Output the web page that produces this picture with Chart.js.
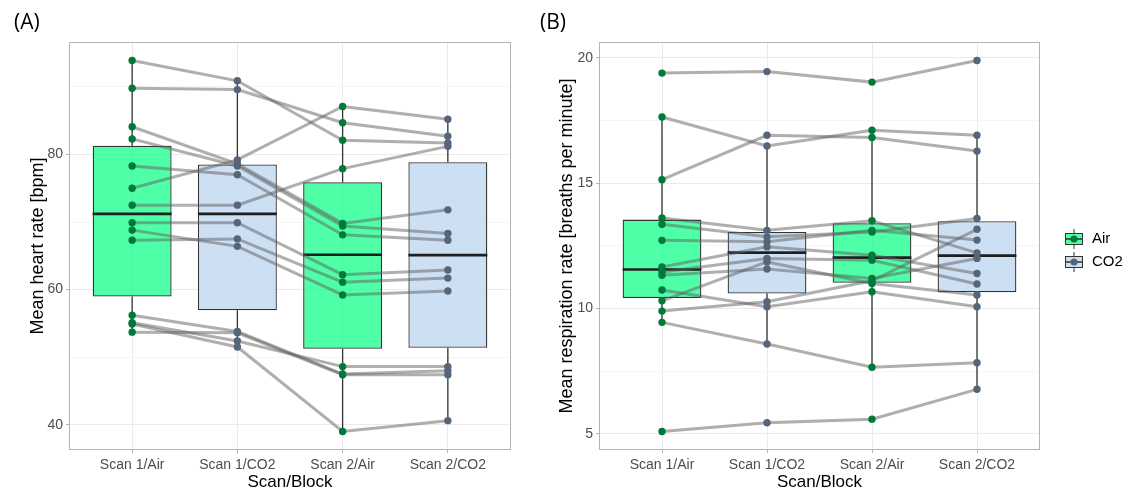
<!DOCTYPE html>
<html>
<head>
<meta charset="utf-8">
<script src="https://cdn.jsdelivr.net/npm/chart.js@4.4.0/dist/chart.umd.min.js"></script>
<style>
body{margin:0;background:#fff;width:1139px;height:499px;overflow:hidden;position:relative;font-family:"Liberation Sans",Arial,sans-serif}
#wrapA{position:absolute;left:0;top:0;width:540px;height:499px}
#wrapB{position:absolute;left:540px;top:0;width:599px;height:499px}
.tag{position:absolute;top:7px;font-family:"Open Sans",sans-serif;font-size:21px;color:#000}
</style>
</head>
<body>
<div id="wrapA"><canvas id="chartA"></canvas></div>
<div id="wrapB"><canvas id="chartB"></canvas></div>
<div class="tag" style="left:14px">(A)</div>
<div class="tag" style="left:540px">(B)</div>
<script>
var categories = ["Scan 1/Air", "Scan 1/CO2", "Scan 2/Air", "Scan 2/CO2"];
var blocks = ["Air", "CO2", "Air", "CO2"];

// heart rate, one value per subject (same subject order in every array)
var hrScan1Air = [93.9, 89.8, 75.0, 84.1, 82.3, 78.3, 72.5, 69.9, 68.8, 67.3, 56.2, 55.1, 54.9, 53.7];
var hrScan1CO2 = [90.9, 89.6, 79.2, 78.6, 78.3, 77.0, 72.5, 69.9, 66.4, 67.5, 53.8, 52.4, 51.5, 53.6];
var hrScan2Air = [82.1, 84.7, 87.1, 69.8, 69.4, 68.1, 77.9, 62.2, 59.2, 61.1, 47.5, 48.6, 39.0, 47.4];
var hrScan2CO2 = [81.7, 82.7, 85.2, 71.8, 68.3, 67.3, 81.2, 62.9, 59.8, 61.7, 48.0, 48.6, 40.6, 47.4];

// respiration rate
var rrScan1Air = [19.39, 17.64, 15.14, 9.45, 5.10, 13.61, 13.36, 12.72, 11.66, 11.46, 11.33, 10.31, 9.90, 10.74];
var rrScan1CO2 = [19.45, 16.48, 16.91, 8.59, 5.45, 13.12, 12.86, 12.66, 12.46, 12.00, 11.58, 11.86, 10.27, 10.07];
var rrScan2Air = [19.03, 17.11, 16.82, 7.66, 5.59, 13.50, 13.05, 13.12, 12.13, 11.93, 11.20, 11.00, 11.11, 10.67];
var rrScan2CO2 = [19.89, 16.91, 16.28, 7.84, 6.78, 12.22, 13.59, 12.73, 11.40, 10.98, 12.00, 10.54, 13.16, 10.07];

var hrTicks = [40, 50, 60, 70, 80, 90];
var hrTickLabels = [40, 60, 80];
var rrTicks = [5, 7.5, 10, 12.5, 15, 17.5, 20];
var rrTickLabels = [5, 10, 15, 20];

var fillColors = {"Air": "rgba(0,255,127,0.69)", "CO2": "#cddff3"};
var pointColors = {"Air": "#007a3b", "CO2": "#56667a"};
var BOX_WIDTH = 0.75;

function quantile(sorted, p){
    var h = (sorted.length - 1) * p;
    var lo = Math.floor(h);
    var hi = Math.min(lo + 1, sorted.length - 1);
    return sorted[lo] + (h - lo) * (sorted[hi] - sorted[lo]);
}

function boxStats(values){
    var s = values.slice().sort(function(a, b){ return a - b; });
    var q1 = quantile(s, 0.25), med = quantile(s, 0.5), q3 = quantile(s, 0.75);
    var iqr = q3 - q1;
    var lo = s.filter(function(v){ return v >= q1 - 1.5 * iqr; })[0];
    var inside = s.filter(function(v){ return v <= q3 + 1.5 * iqr; });
    var hi = inside[inside.length - 1];
    return {q1: q1, med: med, q3: q3, lo: lo, hi: hi};
}

var panelBorder = {
    id: 'panelBorder',
    afterDraw: function(chart){
        var a = chart.chartArea, ctx = chart.ctx;
        ctx.save();
        ctx.strokeStyle = '#b3b3b3';
        ctx.lineWidth = 1;
        ctx.strokeRect(a.left + 0.5, a.top + 0.5, a.right - a.left - 1, a.bottom - a.top - 1);
        ctx.restore();
    }
};

var boxLegend = {
    id: 'boxLegend',
    afterDraw: function(chart){
        if(!chart.options.plugins.boxLegend || !chart.options.plugins.boxLegend.show){ return; }
        var ctx = chart.ctx;
        var items = ["Air", "CO2"];
        ctx.save();
        items.forEach(function(name, k){
            var cx = 534, cy = 239 + k * 23;
            ctx.strokeStyle = '#333';
            ctx.lineWidth = 1;
            ctx.beginPath();
            ctx.moveTo(cx, cy - 10); ctx.lineTo(cx, cy + 10);
            ctx.stroke();
            ctx.fillStyle = '#fff';
            ctx.fillRect(cx - 9, cy - 6, 18, 12);
            ctx.fillStyle = fillColors[name];
            ctx.fillRect(cx - 9, cy - 6, 18, 12);
            ctx.strokeRect(cx - 9 + 0.5, cy - 6 + 0.5, 17, 11);
            ctx.lineWidth = 1.5;
            ctx.beginPath();
            ctx.moveTo(cx - 9, cy); ctx.lineTo(cx + 9, cy);
            ctx.stroke();
            ctx.fillStyle = pointColors[name];
            ctx.beginPath();
            ctx.arc(cx, cy, 3.6, 0, Math.PI * 2);
            ctx.fill();
            ctx.fillStyle = '#000';
            ctx.font = '15px "Liberation Sans", Arial, sans-serif';
            ctx.textBaseline = 'middle';
            ctx.fillText(name, cx + 18, cy);
        });
        ctx.restore();
    }
};

function makeChart(id, series, yTicks, yTickLabels, yTitle, pad, yWidth, showLegend){
    var stats = series.map(boxStats);
    var all = [].concat.apply([], series);
    var dmin = Math.min.apply(null, all), dmax = Math.max.apply(null, all);
    var expand = (dmax - dmin) * 0.05;

    var datasets = [];
    datasets.push({
        type: 'bar',
        data: stats.map(function(st, i){ return {x: i + 1, y: [st.q1, st.q3]}; }),
        backgroundColor: blocks.map(function(b){ return fillColors[b]; }),
        borderColor: '#333333',
        borderWidth: 1.3,
        borderSkipped: false,
        barPercentage: BOX_WIDTH,
        categoryPercentage: 1,
        order: 6
    });
    var whisk = [], meds = [];
    stats.forEach(function(st, i){
        whisk.push({x: i + 1, y: st.lo}, {x: i + 1, y: st.q1}, {x: i + 1, y: null},
                   {x: i + 1, y: st.q3}, {x: i + 1, y: st.hi}, {x: i + 1, y: null});
        meds.push({x: i + 1 - BOX_WIDTH / 2, y: st.med}, {x: i + 1 + BOX_WIDTH / 2, y: st.med}, {x: i + 1, y: null});
    });
    datasets.push({type: 'line', data: whisk, borderColor: '#333333', borderWidth: 1.3,
                   pointRadius: 0, spanGaps: false, order: 5});
    datasets.push({type: 'line', data: meds, borderColor: '#1f1f1f', borderWidth: 2.6,
                   pointRadius: 0, spanGaps: false, order: 4});
    for(var s = 0; s < series[0].length; s++){
        datasets.push({
            type: 'line',
            data: series.map(function(arr, i){ return {x: i + 1, y: arr[s]}; }),
            borderColor: 'rgba(95,95,95,0.5)',
            borderWidth: 3,
            pointRadius: 0,
            order: 3
        });
    }
    ["Air", "CO2"].forEach(function(b){
        var pts = [];
        series.forEach(function(arr, i){
            if(blocks[i] != b){ return; }
            arr.forEach(function(v){ pts.push({x: i + 1, y: v}); });
        });
        datasets.push({
            type: 'scatter',
            data: pts,
            backgroundColor: pointColors[b],
            borderWidth: 0,
            pointRadius: 3.7,
            order: 1
        });
    });

    var tickFont = {family: '"Liberation Sans", Arial, sans-serif', size: 14};
    var xTitleFont = {family: '"Liberation Sans", Arial, sans-serif', size: 17};
    var yTitleFont = {family: '"Liberation Sans", Arial, sans-serif', size: 18};

    return new Chart(document.getElementById(id).getContext('2d'), {
        type: 'bar',
        data: {datasets: datasets},
        options: {
            responsive: true,
            maintainAspectRatio: false,
            animation: false,
            layout: {padding: pad},
            plugins: {legend: {display: false}, tooltip: {enabled: false}, boxLegend: {show: showLegend}},
            scales: {
                x: {
                    type: 'linear',
                    min: 0.4, max: 4.6,
                    offset: false,
                    afterBuildTicks: function(sc){ sc.ticks = categories.map(function(c, i){ return {value: i + 1}; }); },
                    afterFit: function(sc){ sc.height = 49; },
                    ticks: {
                        autoSkip: false, maxRotation: 0, color: '#4d4d4d', font: tickFont, padding: 4,
                        callback: function(v){ return categories[v - 1]; }
                    },
                    grid: {offset: false, color: '#ebebeb', lineWidth: 1, tickColor: '#b3b3b3', tickLength: 3},
                    border: {display: false},
                    title: {display: true, text: 'Scan/Block', color: '#000', font: xTitleFont, padding: {top: 0, bottom: 6}}
                },
                y: {
                    type: 'linear',
                    min: dmin - expand, max: dmax + expand,
                    afterBuildTicks: function(sc){ sc.ticks = yTicks.map(function(v){ return {value: v}; }); },
                    afterFit: function(sc){ sc.width = yWidth; },
                    ticks: {
                        color: '#4d4d4d', font: tickFont, padding: 3,
                        callback: function(v){ return yTickLabels.indexOf(v) >= 0 ? String(v) : ''; }
                    },
                    grid: {
                        lineWidth: 1, tickLength: 3,
                        color: function(c){ return yTickLabels.indexOf(c.tick.value) >= 0 ? '#ebebeb' : '#f5f5f5'; },
                        tickColor: function(c){ return yTickLabels.indexOf(c.tick.value) >= 0 ? '#b3b3b3' : 'rgba(0,0,0,0)'; }
                    },
                    border: {display: false},
                    title: {display: true, text: yTitle, color: '#000', font: yTitleFont, padding: {top: 3, bottom: 0}}
                }
            }
        },
        plugins: [panelBorder, boxLegend]
    });
}

makeChart('chartA', [hrScan1Air, hrScan1CO2, hrScan2Air, hrScan2CO2], hrTicks, hrTickLabels,
          'Mean heart rate [bpm]', {left: 24, top: 42, right: 29, bottom: 0}, 45, false);
makeChart('chartB', [rrScan1Air, rrScan1CO2, rrScan2Air, rrScan2CO2], rrTicks, rrTickLabels,
          'Mean respiration rate [breaths per minute]', {left: 13, top: 42, right: 99, bottom: 0}, 46, true);
</script>
</body>
</html>
